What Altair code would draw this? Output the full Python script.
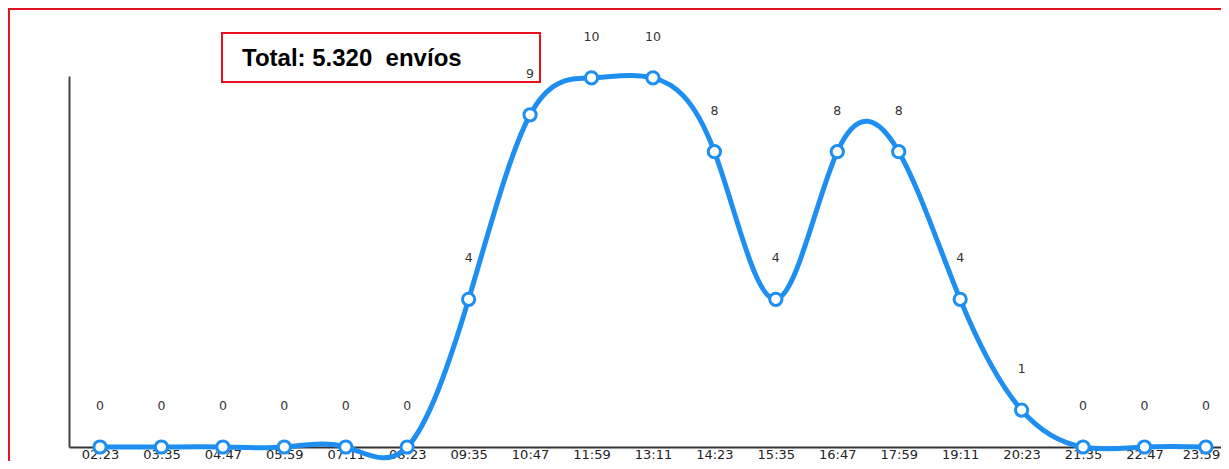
import altair as alt
import pandas as pd

times = ["02:23", "03:35", "04:47", "05:59", "07:11", "08:23", "09:35", "10:47",
         "11:59", "13:11", "14:23", "15:35", "16:47", "17:59", "19:11", "20:23",
         "21:35", "22:47", "23:59"]
values = [0, 0, 0, 0, 0, 0, 4, 9, 10, 10, 8, 4, 8, 8, 4, 1, 0, 0, 0]
total_label = "Total: 5.320\u00a0 envíos"

df = pd.DataFrame({"t": times, "v": values})

W, H = 1152, 371
BLUE = "#1e8ff0"

xenc = alt.X("t:O", sort=None,
             scale=alt.Scale(type="point", padding=0.375, align=0.6727),
             axis=alt.Axis(title=None, ticks=False, grid=False, labelAngle=0,
                           labelFont="DejaVu Sans", labelFontSize=13,
                           labelColor="#222222", labelPadding=1,
                           labelOverlap=False, labelBound=False,
                           labelOffset={"condition": {"test": "datum.value == '23:59'", "value": -5},
                                        "value": 0},
                           domainColor="#333333", domainWidth=2))
yenc = alt.Y("v:Q", scale=alt.Scale(domain=[0, 10.05], nice=False, zero=True),
             axis=alt.Axis(title=None, ticks=False, grid=False, labels=False,
                           domainColor="#444444", domainWidth=2))

base = alt.Chart(df)

border = base.mark_rect(fill=None, stroke="#e0141e", strokeWidth=1.5).encode(
    x=alt.value(-60.5), x2=alt.value(2000), y=alt.value(-67.5), y2=alt.value(1000)
)
box = base.mark_rect(fill="white", stroke="#e8101a", strokeWidth=2).encode(
    x=alt.value(153), x2=alt.value(471), y=alt.value(-43), y2=alt.value(6)
)
box_text = alt.Chart(pd.DataFrame({"s": [total_label]})).mark_text(
    align="left", baseline="alphabetic", font="Liberation Sans",
    fontSize=24, fontWeight="bold", color="#000000"
).encode(x=alt.value(173), y=alt.value(-10.5), text="s:N")

line = base.mark_line(interpolate="natural", color=BLUE, strokeWidth=5).encode(
    x=xenc, y=yenc
)
points = base.mark_point(shape="circle", filled=True, fill="white", stroke=BLUE,
                         strokeWidth=3, size=150, opacity=1).encode(
    x=xenc, y=yenc
)
labels = base.mark_text(dy=-41, baseline="middle", align="center",
                        font="DejaVu Sans", fontSize=12.5, color="#333333").encode(
    x=xenc, y=yenc, text="v:Q"
)

chart = alt.layer(border, box, box_text, line, points, labels).properties(
    width=W, height=H,
    autosize=alt.AutoSizeParams(type="none"),
    padding={"left": 61, "top": 68, "right": 0, "bottom": 14},
    background="white",
).configure_view(stroke=None)

chart.save("out.html", embed_options={"renderer": "svg", "actions": False})
